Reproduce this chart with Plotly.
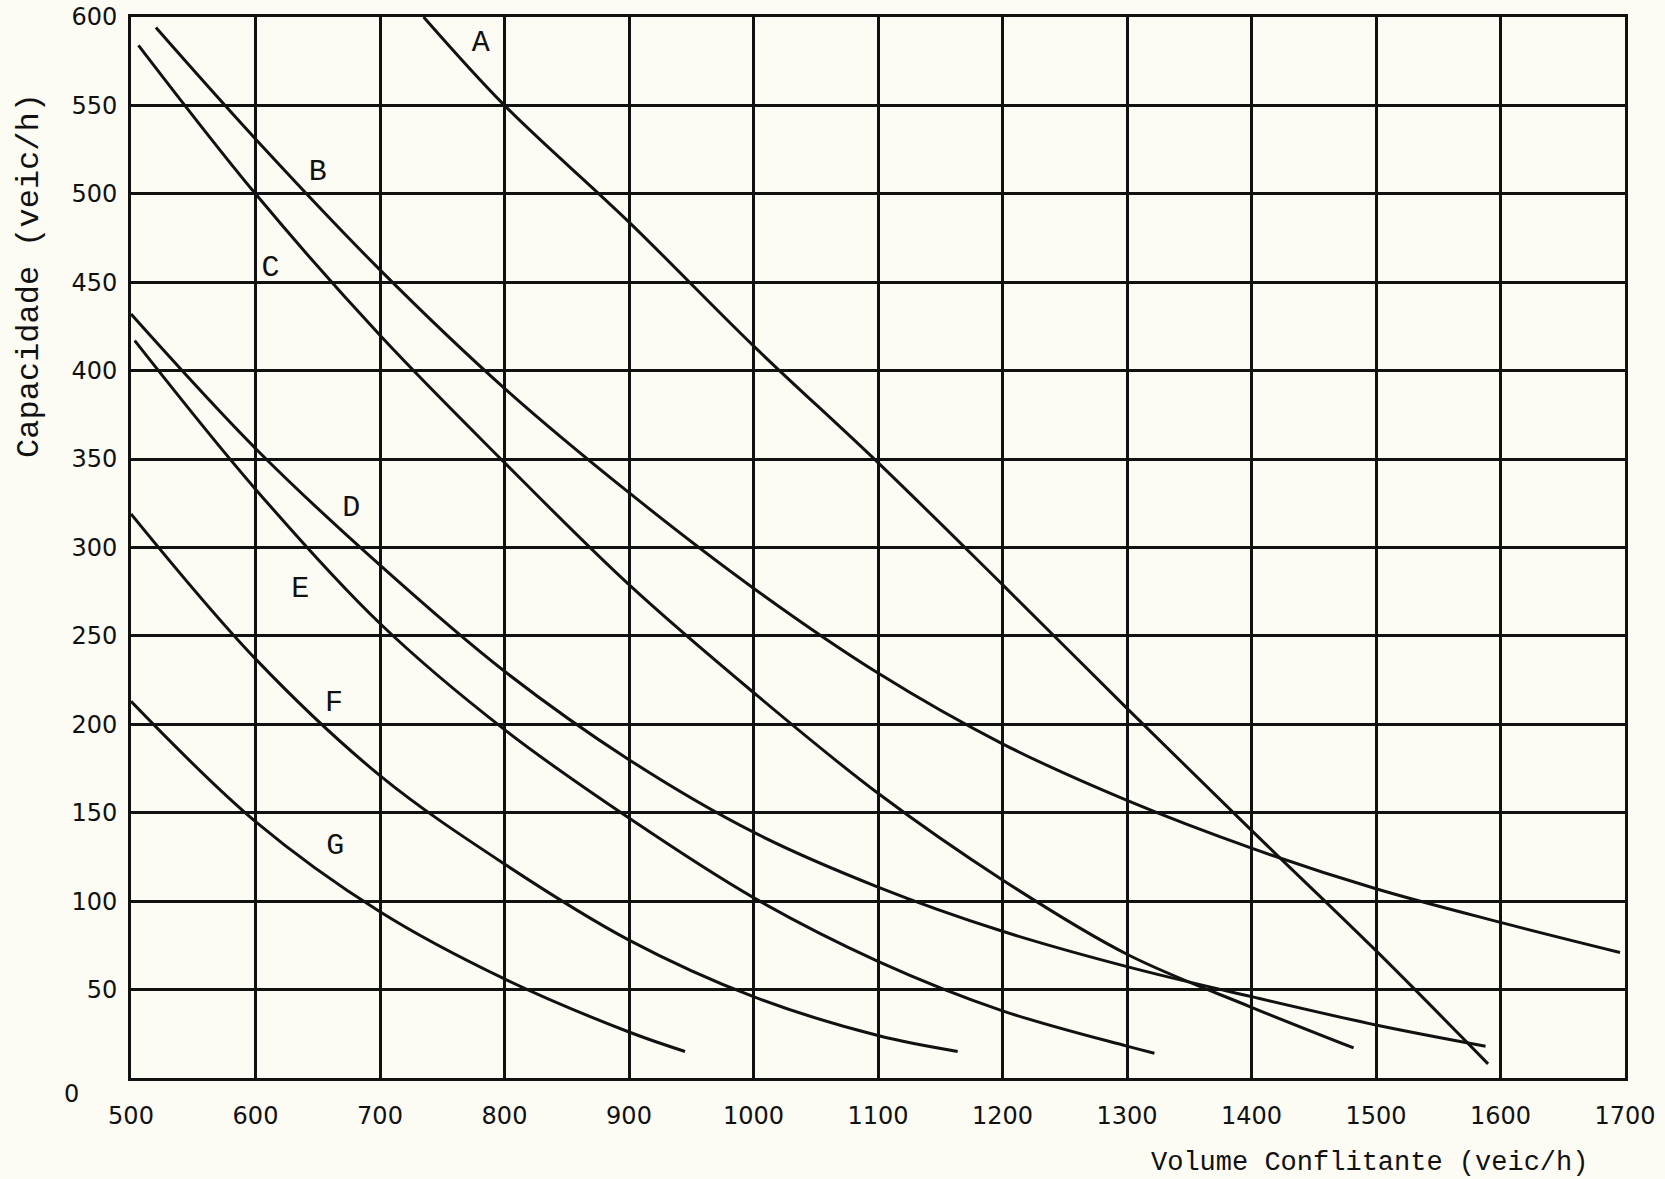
import plotly.graph_objects as go

# Curve data: x = Volume Conflitante (veic/h), y = Capacidade (veic/h)
curve_A_x = [735, 800, 900, 1000, 1100, 1200, 1300, 1400, 1500, 1590]
curve_A_y = [600, 550, 484, 414, 348, 279, 209, 140, 72, 8]

curve_B_x = [520, 600, 700, 800, 900, 1000, 1100, 1200, 1300, 1400, 1500, 1600, 1696]
curve_B_y = [594, 531, 457, 390, 331, 277, 229, 189, 157, 130, 107, 88, 71]

curve_C_x = [506, 600, 700, 800, 900, 1000, 1100, 1200, 1300, 1400, 1482]
curve_C_y = [584, 500, 420, 348, 279, 218, 161, 112, 70, 40, 17]

curve_D_x = [500, 600, 700, 800, 900, 1000, 1100, 1200, 1300, 1400, 1500, 1588]
curve_D_y = [432, 356, 290, 230, 180, 139, 108, 83, 63, 46, 30, 18]

curve_E_x = [503, 600, 700, 800, 900, 1000, 1100, 1200, 1300, 1322]
curve_E_y = [417, 333, 257, 197, 147, 102, 66, 38, 18, 14]

curve_F_x = [500, 600, 700, 800, 900, 1000, 1100, 1164]
curve_F_y = [319, 237, 171, 121, 78, 46, 24, 15]

curve_G_x = [500, 600, 700, 800, 900, 945]
curve_G_y = [213, 145, 94, 56, 26, 15]

curve_names = ["A", "B", "C", "D", "E", "F", "G"]
label_x = [781, 650, 612, 677, 636, 663, 664]
label_y = [585, 512, 458, 322, 276, 212, 131]

x_ticks = [500, 600, 700, 800, 900, 1000, 1100, 1200, 1300, 1400, 1500, 1600, 1700]
y_ticks = [50, 100, 150, 200, 250, 300, 350, 400, 450, 500, 550, 600]

x_title = "Volume Conflitante (veic/h)"
y_title = "Capacidade (veic/h)"

curves = [
    (curve_A_x, curve_A_y), (curve_B_x, curve_B_y), (curve_C_x, curve_C_y),
    (curve_D_x, curve_D_y), (curve_E_x, curve_E_y), (curve_F_x, curve_F_y),
    (curve_G_x, curve_G_y),
]

BG = "#fcfcf4"
INK = "#111111"
MONO = "Liberation Mono, Courier New, monospace"
SANS = "DejaVu Sans, Verdana, sans-serif"

fig = go.Figure()
for name, (xs, ys) in zip(curve_names, curves):
    fig.add_trace(go.Scatter(
        x=xs, y=ys, mode="lines", name=name,
        line=dict(color=INK, width=3, shape="spline", smoothing=1.0),
        showlegend=False, hoverinfo="skip",
    ))

fig.add_trace(go.Scatter(
    x=label_x, y=label_y, mode="text", text=curve_names,
    textfont=dict(family=MONO, size=30, color=INK),
    showlegend=False, hoverinfo="skip",
))

fig.update_layout(
    width=1665, height=1179,
    margin=dict(l=131, r=40, t=17, b=101, autoexpand=False),
    paper_bgcolor=BG, plot_bgcolor=BG,
    showlegend=False,
)

fig.update_xaxes(
    range=[500, 1700], tickvals=x_ticks, ticktext=[str(v) for v in x_ticks],
    showgrid=True, gridcolor=INK, gridwidth=2.6,
    showline=True, linecolor=INK, linewidth=3, mirror=True,
    zeroline=False, ticks="", ticklabelstandoff=14, automargin=False,
    tickfont=dict(family=SANS, size=24, color=INK),
)
fig.update_yaxes(
    range=[0, 600], tickvals=y_ticks, ticktext=[str(v) for v in y_ticks],
    showgrid=True, gridcolor=INK, gridwidth=2.6,
    showline=True, linecolor=INK, linewidth=3, mirror=True,
    zeroline=False, ticks="", ticklabelstandoff=6, automargin=False,
    tickfont=dict(family=SANS, size=24, color=INK),
)

fig.add_annotation(
    text="0", xref="paper", yref="paper", x=-0.0395, y=-0.015,
    xanchor="center", yanchor="middle", showarrow=False,
    font=dict(family=SANS, size=24, color=INK),
)
fig.add_annotation(
    text=y_title, xref="paper", yref="paper", x=-0.0676, y=0.756,
    xanchor="center", yanchor="middle", textangle=-90, showarrow=False,
    font=dict(family=MONO, size=32, color=INK),
)
fig.add_annotation(
    text=x_title, xref="paper", yref="paper", x=0.829, y=-0.080,
    xanchor="center", yanchor="middle", showarrow=False,
    font=dict(family=MONO, size=27, color=INK),
)

fig.write_html("out.html")
